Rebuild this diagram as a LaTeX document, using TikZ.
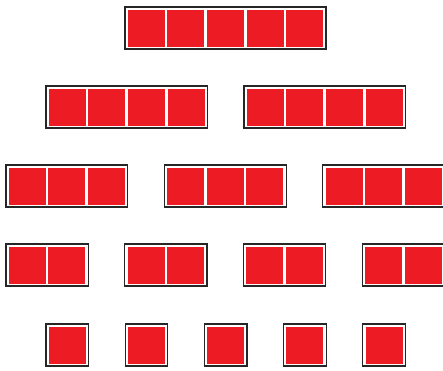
\documentclass[tikz,border=0pt]{standalone}
\definecolor{cellred}{HTML}{ED1C24}
\tikzset{
  x=1pt, y=-1pt,
  frame/.style={draw=black!85, line width=1.1pt, fill=white, inner sep=0pt, outer sep=0pt, anchor=north west, minimum height=42pt},
  cell/.style={fill=cellred, inner sep=0pt, outer sep=0pt, anchor=north west, minimum width=37pt, minimum height=37pt}
}
\newcommand\mkarr[4]{% name, left x, top y, number of cells
  \node[frame, minimum width={#4*39.6pt+3pt}] (#1) at (#2,#3) {};
  \foreach \i in {1,...,#4}{
    \node[cell] (#1-\i) at ({#2+2.8+(\i-1)*39.6},{#3+2.5}) {};
  }
}
\begin{document}
\begin{tikzpicture}
\useasboundingbox (0,0) rectangle (443,370);
\begin{scope}
\clip (0,0) rectangle (443,370);
% row 1
\mkarr{a}{125}{7}{5}
% row 2
\mkarr{b1}{46}{86}{4}
\mkarr{b2}{244}{86}{4}
% row 3
\mkarr{c1}{6}{165}{3}
\mkarr{c2}{164.4}{165}{3}
\mkarr{c3}{322.8}{165}{3}
% row 4
\mkarr{d1}{6}{244}{2}
\mkarr{d2}{124.8}{244}{2}
\mkarr{d3}{243.6}{244}{2}
\mkarr{d4}{362.4}{244}{2}
% row 5
\mkarr{e1}{46}{324}{1}
\mkarr{e2}{125.2}{324}{1}
\mkarr{e3}{204.4}{324}{1}
\mkarr{e4}{283.6}{324}{1}
\mkarr{e5}{362.8}{324}{1}
\end{scope}
\end{tikzpicture}
\end{document}
